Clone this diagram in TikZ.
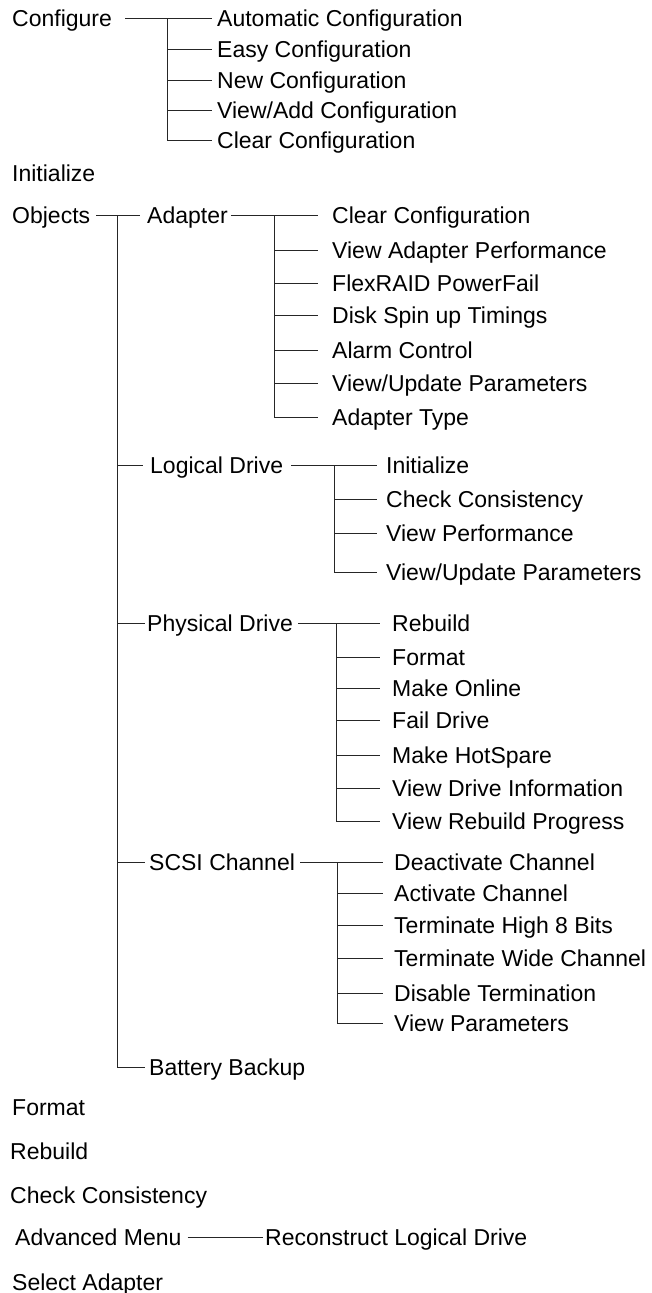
\documentclass[tikz,border=0pt]{standalone}
\usepackage{fontspec}
\setmainfont{Liberation Sans}
\usetikzlibrary{positioning}
\tikzset{item/.style={anchor=west,inner sep=0pt,text height=16.5pt,text depth=0pt,font=\fontsize{23}{27}\selectfont},
wire/.style={line width=0.9pt,draw=black!85}}
\begin{document}
\begin{tikzpicture}[x=1pt,y=-1pt]
\useasboundingbox (0,0) rectangle (651,1293);
%Configure
\node[item] (cfg) at (12,18){Configure};
\node[item] (cfgauto) at (217,18){Automatic Configuration}; \node[item] (cfgeasy) at (217,49){Easy Configuration}; \node[item] (cfgnew) at (217,80){New Configuration};
\node[item] (cfgview) at (217,110){View/Add Configuration}; \node[item] (cfgclr) at (217,140){Clear Configuration};
\coordinate (cfgbus) at (167,18);
\draw[wire] ([xshift=13pt]cfg.east)--([xshift=-5pt]cfgauto.west); \draw[wire] (cfgbus)|-([xshift=-5pt]cfgeasy.west); \draw[wire] (cfgbus)|-([xshift=-5pt]cfgnew.west);
\draw[wire] (cfgbus)|-([xshift=-5pt]cfgview.west); \draw[wire] (cfgbus)|-([xshift=-5pt]cfgclr.west);

\node[item] (init) at (12,173){Initialize};

%Objects
\node[item] (obj) at (12,215){Objects};
\node[item] (adp) at (147,215){Adapter}; \node[item] (ldrv) at (150,465){Logical Drive}; \node[item] (pdrv) at (147,623){Physical Drive};
\node[item] (scsi) at (149,862){SCSI Channel}; \node[item] (batt) at (149,1067){Battery Backup};
\coordinate (objbus) at (117,215);
\draw[wire] ([xshift=6pt]obj.east)--([xshift=-7pt]adp.west); \draw[wire] (objbus)|-([xshift=-7pt]ldrv.west); \draw[wire] (objbus)|-([xshift=-2pt]pdrv.west);
\draw[wire] (objbus)|-([xshift=-4pt]scsi.west); \draw[wire] (objbus)|-([xshift=-4pt]batt.west);

%Adapter
\node[item] (adpclr) at (332,215){Clear Configuration}; \node[item] (adpperf) at (332,250){View Adapter Performance}; \node[item] (adpflex) at (332,283){FlexRAID PowerFail};
\node[item] (adpspin) at (332,315){Disk Spin up Timings}; \node[item] (adpalarm) at (332,350){Alarm Control}; \node[item] (adpparm) at (332,383){View/Update Parameters};
\node[item] (adptype) at (332,417){Adapter Type};
\coordinate (adpbus) at (274,215);
\draw[wire] ([xshift=3pt]adp.east)--([xshift=-14pt]adpclr.west); \draw[wire] (adpbus)|-([xshift=-14pt]adpperf.west); \draw[wire] (adpbus)|-([xshift=-14pt]adpflex.west);
\draw[wire] (adpbus)|-([xshift=-14pt]adpspin.west); \draw[wire] (adpbus)|-([xshift=-14pt]adpalarm.west); \draw[wire] (adpbus)|-([xshift=-14pt]adpparm.west);
\draw[wire] (adpbus)|-([xshift=-14pt]adptype.west);

%Logical Drive
\node[item] (ldinit) at (386,465){Initialize}; \node[item] (ldchk) at (386,499){Check Consistency}; \node[item] (ldperf) at (386,533){View Performance};
\node[item] (ldparm) at (386,572){View/Update Parameters};
\coordinate (ldbus) at (334,465);
\draw[wire] ([xshift=8pt]ldrv.east)--([xshift=-9pt]ldinit.west); \draw[wire] (ldbus)|-([xshift=-9pt]ldchk.west); \draw[wire] (ldbus)|-([xshift=-9pt]ldperf.west);
\draw[wire] (ldbus)|-([xshift=-9pt]ldparm.west);

%Physical Drive
\node[item] (pdreb) at (392,623){Rebuild}; \node[item] (pdfmt) at (392,657){Format}; \node[item] (pdonl) at (392,688){Make Online};
\node[item] (pdfail) at (392,720){Fail Drive}; \node[item] (pdhot) at (392,755){Make HotSpare}; \node[item] (pdinfo) at (392,788){View Drive Information};
\node[item] (pdprog) at (392,821){View Rebuild Progress};
\coordinate (pdbus) at (336,623);
\draw[wire] ([xshift=5pt]pdrv.east)--([xshift=-12pt]pdreb.west); \draw[wire] (pdbus)|-([xshift=-12pt]pdfmt.west); \draw[wire] (pdbus)|-([xshift=-12pt]pdonl.west);
\draw[wire] (pdbus)|-([xshift=-12pt]pdfail.west); \draw[wire] (pdbus)|-([xshift=-12pt]pdhot.west); \draw[wire] (pdbus)|-([xshift=-12pt]pdinfo.west);
\draw[wire] (pdbus)|-([xshift=-12pt]pdprog.west);

%SCSI Channel
\node[item] (scdeact) at (394,862){Deactivate Channel}; \node[item] (scact) at (394,893){Activate Channel}; \node[item] (schigh) at (394,925){Terminate High 8 Bits};
\node[item] (scwide) at (394,958){Terminate Wide Channel}; \node[item] (scdis) at (394,993){Disable Termination}; \node[item] (scparm) at (394,1023){View Parameters};
\coordinate (scbus) at (337,862);
\draw[wire] ([xshift=5pt]scsi.east)--([xshift=-11pt]scdeact.west); \draw[wire] (scbus)|-([xshift=-11pt]scact.west); \draw[wire] (scbus)|-([xshift=-11pt]schigh.west);
\draw[wire] (scbus)|-([xshift=-11pt]scwide.west); \draw[wire] (scbus)|-([xshift=-11pt]scdis.west); \draw[wire] (scbus)|-([xshift=-11pt]scparm.west);

%rest of the menu
\node[item] (fmt) at (12,1107){Format};
\node[item] (reb) at (10,1151){Rebuild};
\node[item] (chk) at (10,1195){Check Consistency};
\node[item] (adv) at (15,1237){Advanced Menu}; \node[item] (recon) at (265,1237){Reconstruct Logical Drive};
\draw[wire] ([xshift=6pt]adv.east)--([xshift=-2pt]recon.west);
\node[item] (sel) at (12,1282){Select Adapter};
\end{tikzpicture}
\end{document}
